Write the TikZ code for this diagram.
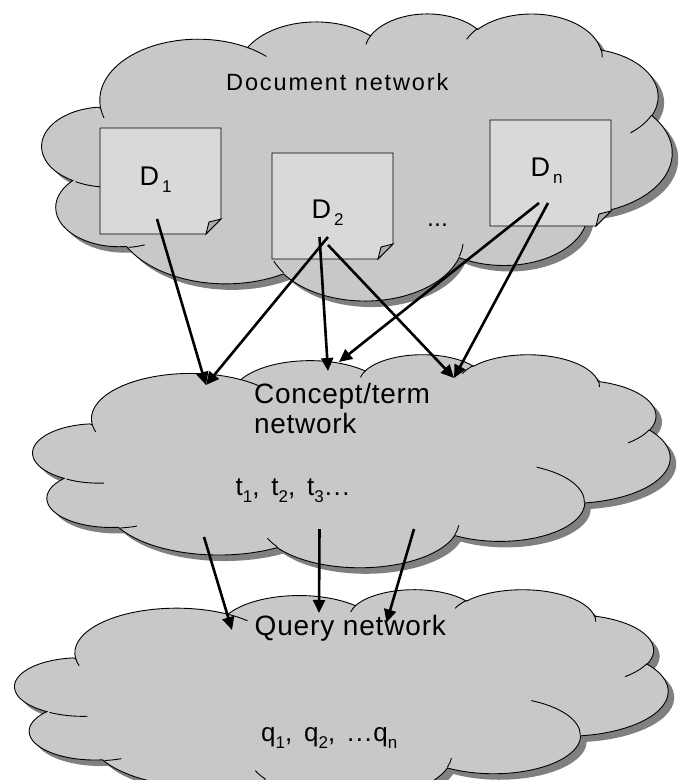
\documentclass[tikz,border=0pt]{standalone}
\usepackage{fontspec}
\setmainfont{Liberation Sans}
\usetikzlibrary{arrows.meta}

\definecolor{cloudfill}{HTML}{C8C8C8}
\definecolor{cloudshade}{HTML}{808080}
\definecolor{pagefill}{HTML}{D9D9D9}
\definecolor{foldfill}{HTML}{ACACAC}

% Cloud outline: eleven elliptic arcs on a 43.2 x 43.2 grid.
% Each arc is given by its radii, the start direction seen from the
% ellipse centre and the swept angle; the parametric angles used by
% TikZ are worked out here.
\newcommand\cldsetarc[5]{%
  \pgfmathsetmacro\cldtmpa{atan2(#2*sin(#4),#3*cos(#4))}%
  \pgfmathsetmacro\cldtmpb{atan2(#2*sin(#4+#5),#3*cos(#4+#5))}%
  \pgfmathsetmacro\cldtmpc{Mod(\cldtmpb-\cldtmpa,360)}%
  \expandafter\xdef\csname cldst#1\endcsname{\cldtmpa}%
  \expandafter\xdef\csname cldsw#1\endcsname{\cldtmpc}%
}
\cldsetarc{A}{6.753}{9.190}{-190.4875}{123.7805}
\cldsetarc{B}{5.333}{7.267}{-144.1024}{89.9452}
\cldsetarc{C}{4.365}{5.945}{-145.8079}{99.7230}
\cldsetarc{D}{4.857}{6.595}{-130.9861}{117.2417}
\cldsetarc{E}{5.333}{7.273}{-78.7089}{109.0269}
\cldsetarc{F}{6.775}{9.220}{-46.2673}{130.2690}
\cldsetarc{G}{5.785}{7.867}{0.6250}{114.0333}
\cldsetarc{H}{6.752}{9.215}{22.4516}{115.1726}
\cldsetarc{I}{7.720}{10.543}{66.2426}{78.0436}
\cldsetarc{J}{4.360}{5.918}{-274.9421}{146.7356}
\cldsetarc{K}{4.345}{5.945}{-246.8285}{152.5189}
% short inner strokes between the puffs
\cldsetarc{a}{4.345}{5.945}{86.742}{26.4295}
\cldsetarc{b}{4.360}{5.918}{73.6105}{11.4475}
\cldsetarc{c}{6.752}{9.215}{137.6242}{14.0811}
\cldsetarc{d}{6.752}{9.215}{6.4533}{15.9984}
\cldsetarc{e}{5.785}{7.867}{-70.2924}{70.9174}
\cldsetarc{f}{5.333}{7.273}{30.318}{27.7515}
\cldsetarc{g}{4.857}{6.595}{-13.7443}{14.8589}
\cldsetarc{h}{4.857}{6.595}{-149.1815}{18.1954}
\cldsetarc{i}{4.365}{5.945}{-163.4943}{17.6864}
\cldsetarc{j}{6.753}{9.190}{-66.707}{12.3194}
\cldsetarc{k}{6.753}{9.190}{157.6544}{11.8582}

\newcommand\cloudshape{(3.900,14.370)
  arc[x radius=6.753,y radius=9.190,start angle=\cldstA,delta angle=\cldswA]
  arc[x radius=5.333,y radius=7.267,start angle=\cldstB,delta angle=\cldswB]
  arc[x radius=4.365,y radius=5.945,start angle=\cldstC,delta angle=\cldswC]
  arc[x radius=4.857,y radius=6.595,start angle=\cldstD,delta angle=\cldswD]
  arc[x radius=5.333,y radius=7.273,start angle=\cldstE,delta angle=\cldswE]
  arc[x radius=6.775,y radius=9.220,start angle=\cldstF,delta angle=\cldswF]
  arc[x radius=5.785,y radius=7.867,start angle=\cldstG,delta angle=\cldswG]
  arc[x radius=6.752,y radius=9.215,start angle=\cldstH,delta angle=\cldswH]
  arc[x radius=7.720,y radius=10.543,start angle=\cldstI,delta angle=\cldswI]
  arc[x radius=4.360,y radius=5.918,start angle=\cldstJ,delta angle=\cldswJ]
  arc[x radius=4.345,y radius=5.945,start angle=\cldstK,delta angle=\cldswK]
  -- cycle}

\newcommand\cloudstrokes{
  (4.693,26.177) arc[x radius=4.345,y radius=5.945,start angle=\cldsta,delta angle=\cldswa]
  (6.928,34.899) arc[x radius=4.360,y radius=5.918,start angle=\cldstb,delta angle=\cldswb]
  (16.478,39.090) arc[x radius=6.752,y radius=9.215,start angle=\cldstc,delta angle=\cldswc]
  (28.827,34.751) arc[x radius=6.752,y radius=9.215,start angle=\cldstd,delta angle=\cldswd]
  (34.129,22.954) arc[x radius=5.785,y radius=7.867,start angle=\cldste,delta angle=\cldswe]
  (41.798,15.354) arc[x radius=5.333,y radius=7.273,start angle=\cldstf,delta angle=\cldswf]
  (38.324,5.426) arc[x radius=4.857,y radius=6.595,start angle=\cldstg,delta angle=\cldswg]
  (29.078,3.952) arc[x radius=4.857,y radius=6.595,start angle=\cldsth,delta angle=\cldswh]
  (22.141,4.720) arc[x radius=4.365,y radius=5.945,start angle=\cldsti,delta angle=\cldswi]
  (14.000,5.192) arc[x radius=6.753,y radius=9.190,start angle=\cldstj,delta angle=\cldswj]
  (4.127,15.789) arc[x radius=6.753,y radius=9.190,start angle=\cldstk,delta angle=\cldswk]}

% one cloud: left, top, width unit, height unit (grid of 43.2)
\newcommand\netcloud[4]{%
  \begin{scope}[shift={(#1,#2)}, x=#3pt, y=-#4pt]
    \fill[cloudshade, xshift=6pt, yshift=-6pt] \cloudshape;
    \filldraw[cloudline, fill=cloudfill] \cloudshape;
    \draw[cloudline] \cloudstrokes;
  \end{scope}}

% a document page with a folded corner: left, top
\newcommand\docpage[2]{%
  \filldraw[pageline, fill=pagefill] (#1,#2) -- ++(121,0) -- ++(0,91)
    -- ++(-15,15) -- ++(-106,0) -- cycle;
  \filldraw[pageline, fill=foldfill] (#1+106,#2+106) -- (#1+109,#2+94)
    -- (#1+121,#2+91) -- cycle;}

\newcommand\lowsub[1]{\raisebox{-7pt}{\fontsize{17}{17}\selectfont #1}}

\begin{document}
\begin{tikzpicture}[x=1pt, y=-1pt,
  cloudline/.style={line width=0.9pt, black},
  pageline/.style={line width=0.9pt, black},
  flow/.style={line width=2.6pt, -{Triangle[length=13pt, width=12pt]}},
  lbl/.style={inner sep=0pt, anchor=base west, text=black}]
  \useasboundingbox (0,0) rectangle (680,780);
  \fill[white] (0,0) rectangle (680,780);
  \clip (0,0) rectangle (680,780);

  % document network
  \netcloud{44}{13}{14.537}{6.6435}
  \docpage{100}{128}
  \docpage{272}{153}
  \docpage{490}{120}
  \node[lbl, font=\fontsize{23.5}{28}\selectfont\addfontfeature{LetterSpace=8}] (docnet) at (226,90) {Document network};
  \node[lbl, font=\fontsize{27}{30}\selectfont] (D1) at (139.5,185) {D\kern3pt\lowsub{1}};
  \node[lbl, font=\fontsize{27}{30}\selectfont] (D2) at (311.5,218.3) {D\kern3pt\lowsub{2}};
  \node[lbl, font=\fontsize{27}{30}\selectfont] (Dn) at (530.5,176.7) {D\kern3pt\lowsub{n}};
  \node[lbl, font=\fontsize{25}{28}\selectfont] (moredocs) at (427,226) {...};

  % concept/term network
  \netcloud{35}{354}{14.699}{4.9306}
  \node[inner sep=0pt, anchor=north west, align=left, font=\fontsize{28}{30}\selectfont\addfontfeature{LetterSpace=2.5}] (ctnet) at (254,383.5) {Concept/term\\network};
  \node[lbl, font=\fontsize{26}{28}\selectfont\addfontfeature{LetterSpace=6}] (terms) at (235.5,495) {t\lowsub{1}, \kern3pt t\lowsub{2}, \kern3pt t\lowsub{3}\kern1pt...};

  % query network
  \netcloud{17}{589}{15.069}{4.8611}
  \node[lbl, font=\fontsize{28}{30}\selectfont\addfontfeature{LetterSpace=3}] (qnet) at (254.5,635) {Query network};
  \node[lbl, font=\fontsize{26}{28}\selectfont\addfontfeature{LetterSpace=6}] (queries) at (261,741) {q\lowsub{1}, \kern3pt q\lowsub{2}, \kern3pt ...q\lowsub{n}};

  % arrow ends
  \coordinate (d1o) at (157,219);
  \coordinate (d2a) at (328,237);
  \coordinate (d2b) at (319.5,237);
  \coordinate (d2c) at (328,245);
  \coordinate (dna) at (539,203);
  \coordinate (dnb) at (548,203);
  \coordinate (ct1) at (206,385);
  \coordinate (ct2) at (328,371);
  \coordinate (ct3) at (339,362);
  \coordinate (ct4) at (454,378);
  \coordinate (to1) at (204,537);
  \coordinate (to2) at (319.5,529);
  \coordinate (to3) at (414,529);
  \coordinate (qn1) at (232,630);
  \coordinate (qn2) at (319,613);
  \coordinate (qn3) at (386.5,622.5);

  \draw[flow] (d1o) -- (ct1);
  \draw[flow] (d2a) -- (ct1);
  \draw[flow] (d2b) -- (ct2);
  \draw[flow] (d2c) -- (ct4);
  \draw[flow] (dna) -- (ct3);
  \draw[flow] (dnb) -- (ct4);
  \draw[flow] (to1) -- (qn1);
  \draw[flow] (to2) -- (qn2);
  \draw[flow] (to3) -- (qn3);
\end{tikzpicture}
\end{document}
